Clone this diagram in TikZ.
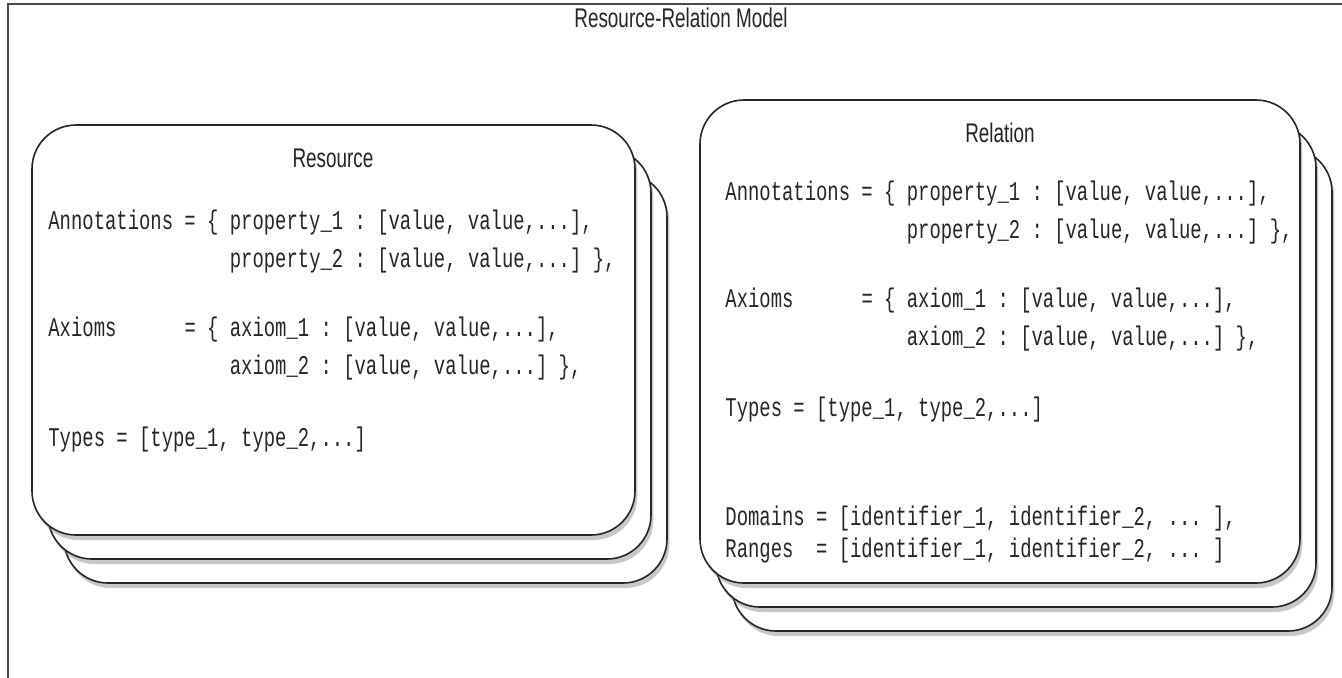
\documentclass[tikz,border=0pt]{standalone}
\usepackage{fontspec}
\setmainfont{Liberation Sans}[FakeStretch=0.7]
\setmonofont{Liberation Mono}[FakeStretch=0.7]
\usetikzlibrary{shadows}

\begin{document}
\begin{tikzpicture}[x=0.5pt, y=-0.5pt,
    card/.style={draw=black!85, line width=0.8pt, fill=white, rounded corners=22pt,
        drop shadow={shadow xshift=1.2pt, shadow yshift=-2.5pt, opacity=0.4, fill=black!55}},
    field/.style={anchor=west, inner sep=0pt, align=left, text=black!85,
        font=\fontsize{13.5}{19}\selectfont\ttfamily},
    heading/.style={inner sep=0pt, text=black!85, font=\fontsize{13.5}{16}\selectfont}]
    \useasboundingbox (0,0) rectangle (1342,677);
    \draw[black!70, line width=1.2pt] (8,4) rectangle (1360,700);
    \node[heading] (model) at (681,18) {Resource-Relation Model};

    % Resource stack
    \foreach \i in {2,1,0}
        \draw[card] (32+16*\i,125+24*\i) rectangle ++(603,410);
    \node[heading] (restitle) at (333,158) {Resource};
    \node[field] (resann) at (48,242) {Annotations = \{ property\_1 : [value, value,...],\\
        \phantom{Annotations = \{ }property\_2 : [value, value,...] \},};
    \node[field] (resax) at (48,349) {Axioms\phantom{XXXXX} = \{ axiom\_1 : [value, value,...],\\
        \phantom{Annotations = \{ }axiom\_2 : [value, value,...] \},};
    \node[field] (restypes) at (48,440) {Types = [type\_1, type\_2,...]};

    % Relation stack
    \foreach \i in {2,1,0}
        \draw[card] (700+16*\i,100+24*\i) rectangle ++(600,483);
    \node[heading] (reltitle) at (1000,133) {Relation};
    \node[field] (relann) at (725,213) {Annotations = \{ property\_1 : [value, value,...],\\
        \phantom{Annotations = \{ }property\_2 : [value, value,...] \},};
    \node[field] (relax) at (725,320) {Axioms\phantom{XXXXX} = \{ axiom\_1 : [value, value,...],\\
        \phantom{Annotations = \{ }axiom\_2 : [value, value,...] \},};
    \node[field] (reltypes) at (725,410) {Types = [type\_1, type\_2,...]};
    \node[field] (reldom) at (725,534) {Domains = [identifier\_1, identifier\_2, ... ],\\[-3pt]
        Ranges\phantom{X} = [identifier\_1, identifier\_2, ... ]};
\end{tikzpicture}
\end{document}
